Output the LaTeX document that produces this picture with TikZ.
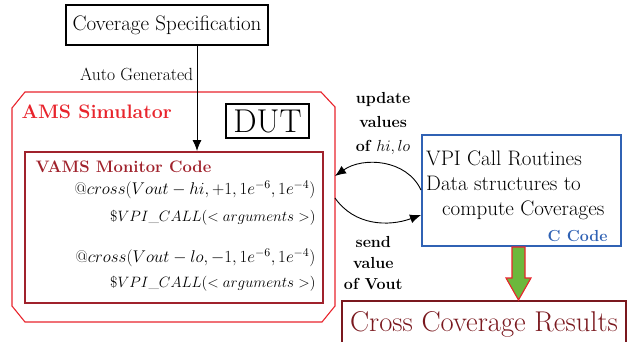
\RequirePackage{fix-cm}
\documentclass[tikz,border=0pt]{standalone}
\usepackage{amsmath}
\usepackage{amssymb}
\usepackage{tikz}
\usetikzlibrary{arrows.meta}
\definecolor{amsred}{RGB}{232,36,44}
\definecolor{vamsred}{RGB}{160,34,44}
\definecolor{resred}{RGB}{122,24,30}
\definecolor{ccblue}{RGB}{48,98,180}
\definecolor{flowgreen}{RGB}{108,184,60}
\tikzset{
x=1pt, y=-1pt, % picture is laid out in pixels, y downwards
box/.style={draw, line width=1.1pt, inner sep=0pt}, % every framed block
link/.style={-{Latex[length=11pt, width=9pt]}, line width=0.9pt}, % connectors
lbl/.style={font=\bfseries\fontsize{16}{24}\selectfont, align=center}, % texts on the curved links
code/.style={anchor=east, font=\fontsize{17}{19}\selectfont}, % monitor code lines
}
\def\amsframe{(25,92) -- (321,92) -- (335,107) -- (335,306) -- (322,322)
-- (25,322) -- (12,306) -- (12,108) -- cycle}
\def\flowarrow{(512,247) -- (512,278) -- (506,278) -- (518.5,300) -- (531,278)
-- (525,278) -- (525,247) -- cycle}

\begin{document}
\begin{tikzpicture}
    \useasboundingbox (0,0) rectangle (630,341);

    % outer simulator frame
    \draw[amsred, line width=1.1pt] \amsframe;
    \node[anchor=west, text=amsred, font=\bfseries\fontsize{19.5}{22}\selectfont]
        (amslabel) at (18,112) {AMS Simulator};

    \node[box, minimum width=202pt, minimum height=40pt,
        font=\fontsize{21}{24}\selectfont] (spec) at (167,25) {Coverage Specification};
    \node[box, minimum width=83pt, minimum height=34pt,
        font=\fontsize{33}{35}\selectfont] (dut) at (267.5,121) {DUT};

    % monitor block
    \node[box, draw=vamsred, line width=2pt, minimum width=298pt,
        minimum height=151pt] (vams) at (174,227.5) {};
    \node[anchor=west, text=vamsred, font=\bfseries\fontsize{16.6}{19}\selectfont]
        (vamslabel) at (32,167) {VAMS Monitor Code};
    \node[code] (hiline) at (319,190) {$@cross(Vout-hi,+1,1e^{-6},1e^{-4})$};
    \node[code, font=\fontsize{15}{18}\selectfont] (hicall) at (319,218)
        {$\$VPI\_CALL(<arguments>)$};
    \node[code] (loline) at (319,258) {$@cross(Vout-lo,-1,1e^{-6},1e^{-4})$};
    \node[code, font=\fontsize{15}{18}\selectfont] (locall) at (319,284)
        {$\$VPI\_CALL(<arguments>)$};

    % C side
    \node[box, draw=ccblue, minimum width=199pt, minimum height=111pt]
        (ccode) at (521.5,190.5) {};
    \node[anchor=base west, align=left, font=\fontsize{21}{25}\selectfont,
        inner sep=0pt] (routines) at (426,215)
        {VPI Call Routines\\Data structures to\\\hspace*{16pt}compute Coverages};
    \node[anchor=east, text=ccblue, font=\bfseries\fontsize{16}{19}\selectfont]
        (clabel) at (611,236) {C Code};

    \node[box, draw=resred, minimum width=284pt, minimum height=46pt,
        text=resred, font=\fontsize{28.6}{30}\selectfont] (results) at (484,324)
        {Cross Coverage Results};

    \coordinate (amsin) at (335,176);
    \coordinate (amsout) at (335,198);
    \coordinate (ccin) at (421,215);
    \coordinate (ccout) at (421,190);

    \draw[link] ([xshift=30pt]spec.south) -- ([xshift=30pt]spec.south |- vams.north)
        node[pos=0.27, left, font=\fontsize{17.6}{20}\selectfont] {Auto Generated};

    \draw[link] (ccout) to[out=115, in=35]
        node[lbl, above=6pt] {update\\values\\of $hi,lo$} (amsin);
    \draw[link] (amsout) to[out=-55, in=200]
        node[lbl, below=11pt, font=\bfseries\fontsize{16}{21}\selectfont]
        {send\\value\\of Vout} (ccin);

    \filldraw[fill=flowgreen, draw=amsred, line width=1.1pt] \flowarrow;
\end{tikzpicture}
\end{document}
